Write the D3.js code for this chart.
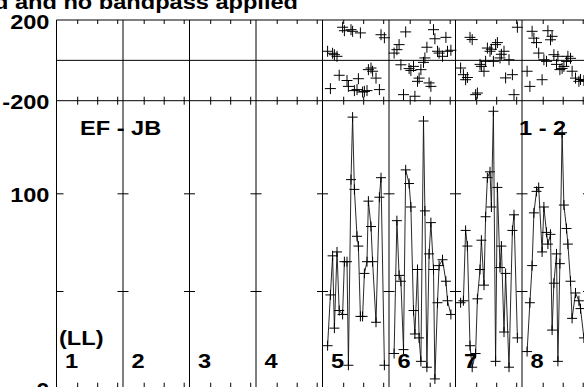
<!DOCTYPE html>
<html>
<head>
<meta charset="utf-8">
<script src="https://cdn.jsdelivr.net/npm/d3@7"></script>
<style>
  html, body { margin: 0; padding: 0; background: #fff; }
  svg { display: block; }
  text { font-family: "Liberation Sans", Arial, Helvetica, sans-serif; font-weight: bold; font-size: 20px; fill: #000; }
</style>
</head>
<body>
<svg id="chart" width="584" height="387"></svg>
<script>
// ---------------- data ----------------
const titleText = "d and no bandpass applied";
const baselineLabel = "EF - JB";
const sourceLabel = "1 - 2";
const polLabel = "(LL)";
const ifLabels = ["1", "2", "3", "4", "5", "6", "7", "8"];

// time axis (hours) shared by every IF column
const timeDomain = [10.965, 14.29];
const timeTicks = [12, 13, 14];
const times = [11.22, 11.36, 11.47, 11.56, 11.69, 11.80, 11.97, 12.06, 12.19, 12.26,
               12.39, 12.47, 12.56, 12.69, 12.76, 12.86, 12.97, 13.06, 13.19, 13.26,
               13.39, 13.47, 13.64, 13.81, 13.89, 14.06];

// phase (degrees) panel
const phaseDomain = [-200, 200];
const phaseTickLabels = [200, -200];
// amplitude panel
const ampDomain = [0, 147.4];
const ampTicks = [50, 100];
const ampTickLabels = [100, 0];

// amplitudes per IF (IF 1-4 have no data)
const amp5 = [22, 48, 68, 31, 70, 40, 38, 65, 65, 12, 107, 139, 102, 78, 73, 37, 37, 59, 65, 96, 83, 65, 34, 98, 108, 12];
const amp6 = [18, 86, 58, 55, 20, 112, 105, 93, 40, 28, 61, 26, 14, 137, 91, 11, 69, 85, 61, 5, 44, 63, 66, 55, 45, 38];
const amp7 = [44, 45, 81, 73, 22, 11, 18, 46, 61, 76, 53, 88, 108, 111, 93, 142, 14, 103, 62, 73, 29, 59, 11, 81, 89, 26];
const amp8 = [19, 44, 63, 90, 101, 103, 70, 93, 80, 74, 79, 30, 54, 69, 14, 64, 131, 94, 82, 74, 55, 36, 49, 45, 41, 26];

// phases per IF
const phase5 = [45, -140, 35, 28, 20, -74, 164, 147, -100, -129, 152, 144, -150, -145, -91, 136, -157, -154, -150, -46, -38, -54, -88, -145, 127, 112];
const phase6 = [36, 53, 78, -22, -170, 141, -41, -50, -30, -178, -104, -88, -46, -10, 12, 65, -112, -129, 152, 107, 45, 36, 20, 114, 45, 50];
const phase7 = [-38, -71, -96, -85, 114, 103, -170, -162, -20, -30, -54, -5, 61, 45, 55, -5, 78, 88, 12, 30, 45, -87, 3, -71, -170, 164];
const phase8 = [-54, -129, 144, 110, 88, 36, -96, 3, -5, 147, 102, 119, 28, -20, 20, -46, -40, -30, -5, 20, 10, -54, -88, -104, -95, -100];

const ampByIF = [[], [], [], [], amp5, amp6, amp7, amp8];
const phaseByIF = [[], [], [], [], phase5, phase6, phase7, phase8];

// ---------------- layout ----------------
const svg = d3.select("#chart");
const plotLeft = 56.5, colW = 66.5;
const plotRight = plotLeft + colW * ifLabels.length;
const phaseTop = 20, phaseBottom = 100.7, ampBottom = 388.7;
const stretch = 1.18;

const xCol = d3.scaleBand().domain(ifLabels).range([plotLeft, plotRight]).padding(0);
const xTime = d3.scaleLinear().domain(timeDomain).range([0, colW]);
const yPhase = d3.scaleLinear().domain(phaseDomain).range([phaseBottom, phaseTop]);
const yAmp = d3.scaleLinear().domain(ampDomain).range([ampBottom, phaseBottom]);

function stretchedText(sel, x, y, txt, anchor) {
  sel.append("text")
    .attr("transform", `translate(${x},${y}) scale(${stretch},1)`)
    .attr("text-anchor", anchor || "start")
    .text(txt);
}

// ---------------- frame ----------------
const frame = svg.append("g").attr("stroke", "#000").attr("stroke-width", 1).attr("fill", "none");
const bounds = ifLabels.map(d => xCol(d)).concat([plotRight]);
bounds.forEach(bx => {
  frame.append("line").attr("x1", bx).attr("x2", bx).attr("y1", phaseTop).attr("y2", ampBottom);
});
[phaseTop, yPhase(0), phaseBottom].forEach(hy => {
  frame.append("line").attr("x1", plotLeft).attr("x2", plotRight).attr("y1", hy).attr("y2", hy);
});

// ---------------- ticks ----------------
const noDomain = g => g.select(".domain").remove();
ifLabels.forEach(lab => {
  const g = svg.append("g").attr("transform", `translate(${xCol(lab)},0)`);
  g.append("g").attr("transform", `translate(0,${phaseTop})`)
    .call(d3.axisTop(xTime).tickValues(timeTicks).tickSize(-4).tickFormat("")).call(noDomain);
  g.append("g").attr("transform", `translate(0,${phaseBottom})`)
    .call(d3.axisBottom(xTime).tickValues(timeTicks).tickSize(-4).tickFormat("")).call(noDomain);
  g.append("g").attr("transform", `translate(0,${phaseBottom})`)
    .call(d3.axisTop(xTime).tickValues(timeTicks).tickSize(-4).tickFormat("")).call(noDomain);
  g.append("g").attr("transform", `translate(0,${ampBottom})`)
    .call(d3.axisBottom(xTime).tickValues(timeTicks).tickSize(-6).tickFormat("")).call(noDomain);
});
bounds.forEach((bx, i) => {
  const g = svg.append("g").attr("transform", `translate(${bx},0)`);
  g.append("g").call(d3.axisRight(yAmp).tickValues(ampTicks).tickSize(i === 0 ? 7 : 5.5).tickFormat("")).call(noDomain);
  if (i > 0) g.append("g").call(d3.axisLeft(yAmp).tickValues(ampTicks).tickSize(5.5).tickFormat("")).call(noDomain);
});
svg.selectAll(".tick line").attr("stroke", "#000");

// ---------------- data ----------------
const plusPath = s => `M${-s},0H${s}M0,${-s}V${s}`;
ifLabels.forEach((lab, i) => {
  const amps = ampByIF[i], phs = phaseByIF[i];
  if (!amps.length) return;
  const g = svg.append("g").attr("transform", `translate(${xCol(lab)},0)`);
  const pts = times.map((t, k) => ({ t, a: amps[k], p: phs[k] }));
  g.append("path").datum(pts)
    .attr("fill", "none").attr("stroke", "#111").attr("stroke-width", 0.9)
    .attr("d", d3.line().x(d => xTime(d.t)).y(d => yAmp(d.a)));
  g.selectAll(".amark").data(pts).join("path").attr("class", "amark")
    .attr("transform", d => `translate(${xTime(d.t)},${yAmp(d.a)})`)
    .attr("d", plusPath(5)).attr("stroke", "#000").attr("stroke-width", 1).attr("fill", "none");
  g.selectAll(".pmark").data(pts).join("path").attr("class", "pmark")
    .attr("transform", d => `translate(${xTime(d.t)},${yPhase(d.p)})`)
    .attr("d", plusPath(5.5)).attr("stroke", "#000").attr("stroke-width", 1).attr("fill", "none");
});

// ---------------- labels ----------------
const lbl = svg.append("g");
stretchedText(lbl, 298, 9, titleText, "end");
phaseTickLabels.forEach(v => stretchedText(lbl, 49.5, yPhase(v) + 8.5, String(v), "end"));
ampTickLabels.forEach(v => stretchedText(lbl, 49.5, yAmp(v) + 8.5, String(v), "end"));
stretchedText(lbl, 80, 134.5, baselineLabel, "start");
stretchedText(lbl, 519, 134.5, sourceLabel, "start");
stretchedText(lbl, 59, 344.5, polLabel, "start");
ifLabels.forEach(lab => stretchedText(lbl, xCol(lab) + 8.5, 367.5, lab, "start"));
</script>
</body>
</html>
